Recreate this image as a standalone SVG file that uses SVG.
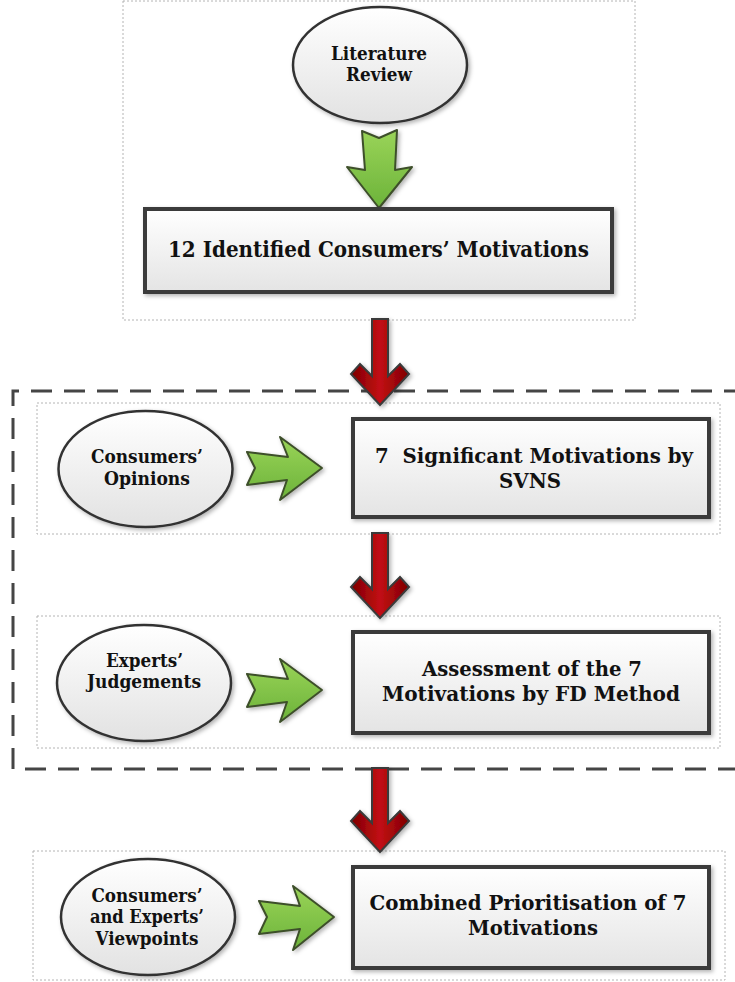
<svg xmlns="http://www.w3.org/2000/svg" width="735" height="982" viewBox="0 0 735 982">
<defs>
  <linearGradient id="gBox" x1="0" y1="0" x2="0" y2="1">
    <stop offset="0" stop-color="#ffffff"/>
    <stop offset="1" stop-color="#e4e4e4"/>
  </linearGradient>
  <linearGradient id="gEll" x1="0" y1="0" x2="0" y2="1">
    <stop offset="0" stop-color="#ffffff"/>
    <stop offset="1" stop-color="#e2e2e2"/>
  </linearGradient>
  <linearGradient id="gGreen" x1="0" y1="0" x2="0" y2="1">
    <stop offset="0" stop-color="#9ad458"/>
    <stop offset="1" stop-color="#6cb33a"/>
  </linearGradient>
  <linearGradient id="gRed" x1="0" y1="0" x2="1" y2="0">
    <stop offset="0" stop-color="#7e0000"/>
    <stop offset="0.5" stop-color="#c20d14"/>
    <stop offset="1" stop-color="#7e0000"/>
  </linearGradient>
  <filter id="sh" x="-10%" y="-10%" width="130%" height="130%">
    <feDropShadow dx="2" dy="2" stdDeviation="2" flood-color="#000" flood-opacity="0.3"/>
  </filter>
  <style>
    .frame{fill:none;stroke:#b4b4b4;stroke-width:1;stroke-dasharray:2 2}
    .big{fill:none;stroke:#454545;stroke-width:3;stroke-dasharray:21 12}
    .box{fill:url(#gBox);stroke:#3a3a3a;stroke-width:4;filter:url(#sh)}
    .ell{fill:url(#gEll);stroke:#333;stroke-width:2.5;filter:url(#sh)}
    .green{fill:url(#gGreen);stroke:#3e4f2a;stroke-width:2;stroke-linejoin:round;filter:url(#sh)}
    .red{fill:url(#gRed);stroke:#3a3a3a;stroke-width:2;stroke-linejoin:miter;filter:url(#sh)}
    text{font-family:"DejaVu Serif","Liberation Serif",serif;font-weight:bold;fill:#111;text-anchor:middle}
    .et{font-size:18px}
    .bt{font-size:20px}
    .tt{font-size:23px}
  </style>
</defs>

<g id="containers">
  <rect class="frame" x="123" y="1" width="512" height="319"/>
  <path class="big" d="M745 391 H13 V769 H745"/>
  <rect class="frame" x="37" y="403" width="683" height="131"/>
  <rect class="frame" x="37" y="616" width="683" height="132"/>
  <rect class="frame" x="33" y="851" width="692" height="129"/>
</g>

<g id="connectors">
  <polygon class="green" points="362,131 379,138 397,130 395,170 412,167 379,208 347,167 365,170"/>
  <polygon class="green" points="247,452 288,457 280,437 322,468 280,500 287,480 247,485 255,468"/>
  <polygon class="green" points="247,674 288,679 280,659 322,690 280,722 287,702 247,707 255,690"/>
  <polygon class="green" points="259,901 300,906 293,886 334,917 293,950 300,929 259,934 267,917"/>
  <polygon class="red" points="372,319 388,319 388,376 400,364 409,374 380,405 351,374 360,364 372,376"/>
  <polygon class="red" points="372,533 388,533 388,589 400,577 409,587 380,618 351,587 360,577 372,589"/>
  <polygon class="red" points="372,768 388,768 388,823 400,811 409,821 380,852 351,821 360,811 372,823"/>
</g>

<g id="literature-review">
  <ellipse class="ell" cx="380" cy="65" rx="87" ry="58"/>
  <text class="et" x="379" y="60" textLength="96" lengthAdjust="spacingAndGlyphs">Literature</text>
  <text class="et" x="379" y="81" textLength="66" lengthAdjust="spacingAndGlyphs">Review</text>
</g>

<g id="identified-motivations">
  <rect class="box" x="145" y="209" width="467" height="83"/>
  <text class="tt" x="378.5" y="257" textLength="421" lengthAdjust="spacingAndGlyphs">12 Identified Consumers’ Motivations</text>
</g>

<g id="consumers-opinions">
  <ellipse class="ell" cx="145.5" cy="469" rx="87" ry="58"/>
  <text class="et" x="147" y="463" textLength="112" lengthAdjust="spacingAndGlyphs">Consumers’</text>
  <text class="et" x="147" y="485" textLength="86" lengthAdjust="spacingAndGlyphs">Opinions</text>
</g>

<g id="significant-motivations">
  <rect class="box" x="353" y="419" width="356" height="98"/>
  <text class="bt" x="534" y="463" textLength="318" lengthAdjust="spacingAndGlyphs" xml:space="preserve">7  Significant Motivations by</text>
  <text class="bt" x="530" y="488" textLength="62" lengthAdjust="spacingAndGlyphs">SVNS</text>
</g>

<g id="experts-judgements">
  <ellipse class="ell" cx="144" cy="683" rx="87" ry="58"/>
  <text class="et" x="144.5" y="667" textLength="77" lengthAdjust="spacingAndGlyphs">Experts’</text>
  <text class="et" x="144" y="688" textLength="114" lengthAdjust="spacingAndGlyphs">Judgements</text>
</g>

<g id="fd-assessment">
  <rect class="box" x="353" y="632" width="356" height="101"/>
  <text class="bt" x="532" y="676" textLength="220" lengthAdjust="spacingAndGlyphs">Assessment of the 7</text>
  <text class="bt" x="531" y="701" textLength="298" lengthAdjust="spacingAndGlyphs">Motivations by FD Method</text>
</g>

<g id="viewpoints">
  <ellipse class="ell" cx="148" cy="917" rx="87" ry="58"/>
  <text class="et" x="147" y="902" textLength="111" lengthAdjust="spacingAndGlyphs">Consumers’</text>
  <text class="et" x="147" y="923" textLength="114" lengthAdjust="spacingAndGlyphs">and Experts’</text>
  <text class="et" x="147" y="945" textLength="103" lengthAdjust="spacingAndGlyphs">Viewpoints</text>
</g>

<g id="combined-prioritisation">
  <rect class="box" x="353" y="867" width="356" height="101"/>
  <text class="bt" x="528" y="910" textLength="317" lengthAdjust="spacingAndGlyphs">Combined Prioritisation of 7</text>
  <text class="bt" x="533" y="935" textLength="130" lengthAdjust="spacingAndGlyphs">Motivations</text>
</g>
</svg>
